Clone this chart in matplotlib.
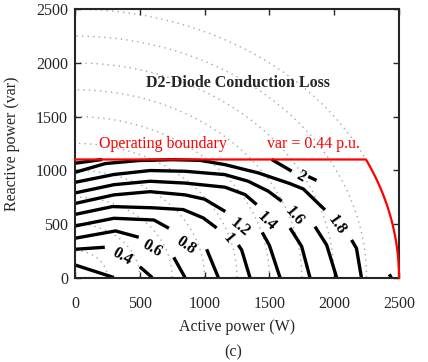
import numpy as np
import matplotlib
matplotlib.use('Agg')
import matplotlib.pyplot as plt

plt.rcParams['font.family'] = ['Liberation Serif', 'DejaVu Serif']

# contour lines of the loss, one list of (P, Q) pieces per level
# P = active power (W), Q = reactive power (var)
c02 = [([0, 300], [117, 0])]
c04 = [([0, 230], [263, 282]),
       ([500, 596], [100, 0])]
c06 = [([0, 313, 492], [366, 434, 375]),
       ([762, 849], [188, 0])]
c08 = [([0, 300, 609, 725], [480, 552, 536, 459]),
       ([1016, 1106], [263, 0])]
c10 = [([0, 289, 594, 836, 990, 1093], [588, 661, 650, 633, 555, 462]),
       ([1260, 1286, 1350], [303, 257, 0])]
c12 = [([0, 300, 579, 850, 1000, 1160], [690, 770, 800, 770, 730, 615]),
       ([1445, 1500, 1582], [420, 300, 0])]
c14 = [([0, 300, 579, 850, 1157, 1312, 1402], [788, 865, 897, 880, 842, 773, 680]),
       ([1659, 1749, 1813], [462, 290, 0])]
c16 = [([0, 300, 579, 850, 1157, 1337, 1492, 1595], [887, 960, 997, 990, 959, 897, 804, 711]),
       ([1852, 1942, 2019], [474, 303, 0])]
c18 = [([0, 234, 491, 750, 965, 1157, 1414, 1659, 1762, 1929],
        [980, 1062, 1090, 1098, 1092, 1052, 975, 875, 825, 630]),
       ([2134, 2172, 2210], [350, 272, 0])]
c20 = [([0, 210], [1065, 1100]),
       ([1518, 1672], [1100, 991]),
       ([1800, 1864], [941, 905]),
       ([2425, 2440], [30, 0])]
contours = [c02, c04, c06, c08, c10, c12, c14, c16, c18, c20]

# inline labels
lab_text = ['0.4', '0.6', '0.8', '1', '1.2', '1.4', '1.6', '1.8', '2']
lab_p = [362, 595, 859, 1183, 1273, 1479, 1690, 2019, 1745]
lab_q = [194, 272, 303, 366, 462, 524, 575, 490, 944]
lab_rot = [-30, -30, -35, -50, -40, -45, -50, -55, -30]

s_max = 2500      # apparent power limit (VA)
q_max = 1100      # reactive limit (var), 0.44 p.u.
rings = np.arange(250, 2501, 250)

fig = plt.figure(figsize=(4.28, 3.62), dpi=100)
ax = fig.add_axes([0.1752, 0.2334, 0.757, 0.741])

# dotted circles of constant apparent power
t = np.linspace(0, np.pi / 2, 200)
for r in rings:
    ax.plot(r * np.cos(t), r * np.sin(t), color='#a8a8a8', lw=1.0,
            linestyle=(0, (1, 3)), zorder=1)

for lev in contours:
    for p, q in lev:
        ax.plot(p, q, color='black', lw=2.4, solid_capstyle='butt', zorder=2)

for txt, p, q, r in zip(lab_text, lab_p, lab_q, lab_rot):
    ax.text(p, q, txt, rotation=r, ha='center', va='center', fontsize=11.5,
            fontweight='bold', color='black', zorder=3)

# operating boundary
p_edge = np.sqrt(s_max ** 2 - q_max ** 2)
a = np.linspace(np.arcsin(q_max / s_max), 0, 100)
bp = np.concatenate([[0, p_edge], s_max * np.cos(a)])
bq = np.concatenate([[q_max, q_max], s_max * np.sin(a)])
ax.plot(bp, bq, color='red', lw=1.6, zorder=4, clip_on=False)

ax.text(185, 1245, 'Operating boundary', color='red', fontsize=11.5, va='center')
ax.text(1481, 1245, 'var = 0.44 p.u.', color='red', fontsize=11.5, va='center')
ax.text(1258, 1815, 'D2-Diode Conduction Loss', color='#262626', fontsize=11.5,
        fontweight='bold', ha='center', va='center')

ax.set_xlim(0, 2500)
ax.set_ylim(0, 2500)
ax.set_xticks(np.arange(0, 2501, 500))
ax.set_yticks(np.arange(0, 2501, 500))
ax.tick_params(direction='in', top=True, right=True, length=4, width=1,
               colors='#262626', labelsize=11.5)
ax.tick_params(axis='x', pad=13)
ax.tick_params(axis='y', pad=5)
for s in ax.spines.values():
    s.set_linewidth(1.5)
    s.set_color('#262626')

ax.set_xlabel('Active power (W)', fontsize=11.5, color='#262626')
ax.set_ylabel('Reactive power (var)', fontsize=11.5, color='#262626')
ax.xaxis.set_label_coords(0.5, -0.153)
ax.yaxis.set_label_coords(-0.17, 0.5)

fig.text(0.544, 0.026, '(c)', fontsize=11.5, ha='center', va='center', color='#262626')

fig.savefig('out.png', dpi=100)
